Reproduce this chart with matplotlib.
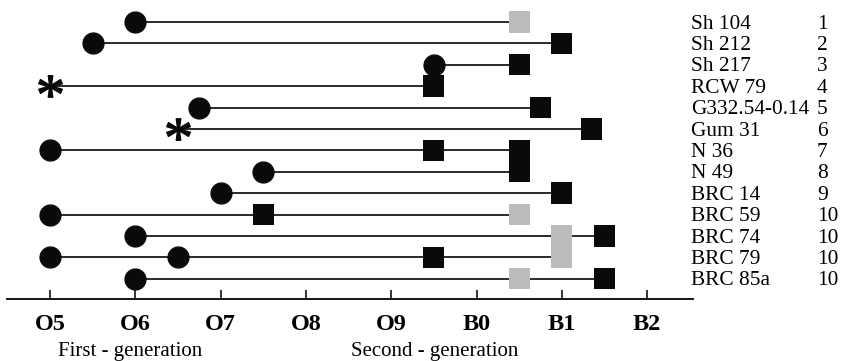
import numpy as np
import matplotlib.pyplot as plt
from matplotlib.textpath import TextPath
from matplotlib.font_manager import FontProperties
from matplotlib.path import Path
from matplotlib.transforms import blended_transform_factory

plt.rcParams['font.family'] = ['Liberation Serif', 'DejaVu Serif']

# Data (x positions: 0 = O5, 1 = O6, ... 5 = B0, 6 = B1, 7 = B2)
spectral_types = ['O5', 'O6', 'O7', 'O8', 'O9', 'B0', 'B1', 'B2']
names = ['Sh 104', 'Sh 212', 'Sh 217', 'RCW 79', 'G332.54-0.14', 'Gum 31', 'N 36',
         'N 49', 'BRC 14', 'BRC 59', 'BRC 74', 'BRC 79', 'BRC 85a']
refs = ['1', '2', '3', '4', '5', '6', '7', '8', '9', '10', '10', '10', '10']

first_gen_circle = [[1], [0.5], [4.5], [], [1.75], [], [0], [2.5], [2], [0], [1], [0, 1.5], [1]]
first_gen_star = [[], [], [], [0], [], [1.5], [], [], [], [], [], [], []]
second_gen_black = [[], [6], [5.5], [4.5], [5.75], [6.35], [4.5, 5.5], [5.5], [6], [2.5],
                    [6.5], [4.5], [6.5]]
second_gen_grey = [[5.5], [], [], [], [], [], [], [], [], [5.5], [6], [6], [5.5]]

black = '#0a0a0a'
grey = '#bbbbbb'
sq_w = 0.246

fig = plt.figure(figsize=(8.41, 3.61), dpi=100)
ax = fig.add_axes([7 / 841, 62 / 361, 686 / 841, 299 / 361])

# asterisk marker built from a serif glyph (centred, closepoly points moved to centre)
tp = TextPath((0, 0), '*', size=1, prop=FontProperties(family='Liberation Serif'))
verts = tp.vertices.copy()
codes = tp.codes
real = codes != Path.CLOSEPOLY
centre = (verts[real].min(axis=0) + verts[real].max(axis=0)) / 2
verts = verts - centre
verts[~real] = 0
star = Path(verts, codes)

for i in range(len(names)):
    row = i + 1
    xs = first_gen_circle[i] + first_gen_star[i] + second_gen_black[i] + second_gen_grey[i]
    ax.plot([min(xs), max(xs)], [row, row], color='#1a1a1a', lw=1.3, zorder=1)
    if first_gen_circle[i]:
        ax.plot(first_gen_circle[i], [row] * len(first_gen_circle[i]), 'o', ms=15,
                color=black, zorder=3)
    if first_gen_star[i]:
        ax.plot(first_gen_star[i], [row] * len(first_gen_star[i]), ls='none', marker=star,
                ms=17, color=black, zorder=3)
    for x in second_gen_black[i]:
        ax.bar(x, 1.0, width=sq_w, bottom=row - 0.5, color=black, zorder=2)
    for x in second_gen_grey[i]:
        ax.bar(x, 1.0, width=sq_w, bottom=row - 0.5, color=grey, zorder=2)

ax.set_xlim(-0.504, 7.538)
ax.set_ylim(13.95, -0.03)

for s in ['top', 'left', 'right']:
    ax.spines[s].set_visible(False)
ax.spines['bottom'].set_linewidth(1.3)
ax.set_yticks([])
ax.set_xticks(range(len(spectral_types)))
ax.set_xticklabels(spectral_types, fontweight='bold', fontsize=17.5)
ax.tick_params(axis='x', direction='in', length=6.5, width=1.1, pad=11)

# right-hand labels
trans = blended_transform_factory(fig.transFigure, ax.transData)
for i in range(len(names)):
    row = i + 1
    ax.text(691 / 841, row + 0.31, names[i], transform=trans, va='baseline', ha='left',
            fontsize=15.4, clip_on=False)
    ax.text(817 / 841, row + 0.31, refs[i], transform=trans, va='baseline', ha='left',
            fontsize=15.4, clip_on=False)

fig.text(130 / 841, 5 / 361, 'First - generation', ha='center', va='baseline', fontsize=15)
fig.text(435 / 841, 5 / 361, 'Second - generation', ha='center', va='baseline', fontsize=15)

fig.savefig('out.png', dpi=100)
